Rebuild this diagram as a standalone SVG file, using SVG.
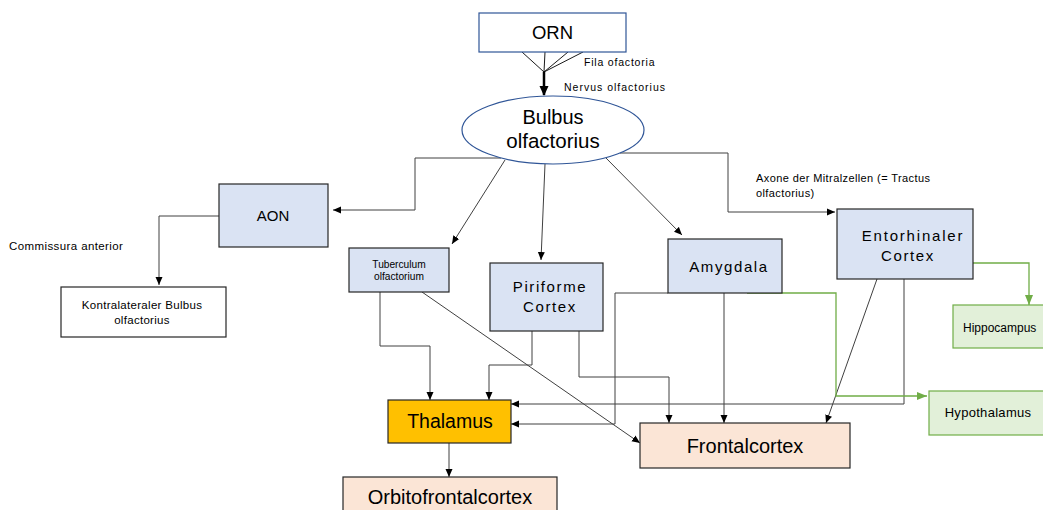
<svg xmlns="http://www.w3.org/2000/svg" width="1043" height="510" viewBox="0 0 1043 510">
<defs>
<marker id="ah" markerWidth="8" markerHeight="8" viewBox="0 0 8 8" refX="8" refY="4" orient="auto" markerUnits="userSpaceOnUse"><path d="M0,0.5 L8,4 L0,7.5 Z" fill="#000"/></marker>
<marker id="ahg" markerWidth="10" markerHeight="10" viewBox="0 0 10 10" refX="10" refY="5" orient="auto" markerUnits="userSpaceOnUse"><path d="M0,1 L10,5 L0,9 Z" fill="#70ad47"/></marker>
<marker id="ahb" markerWidth="10" markerHeight="10" viewBox="0 0 10 10" refX="9" refY="5" orient="auto" markerUnits="userSpaceOnUse"><path d="M0,0.5 L10,5 L0,9.5 Z" fill="#000"/></marker>
</defs>
<style>
text{font-family:"Liberation Sans",Arial,sans-serif;fill:#000}
.c{text-anchor:middle}
.blue{fill:#dae3f3;stroke:#262626;stroke-width:1.2}
.green{fill:#e2f0d9;stroke:#70ad47;stroke-width:1.2}
.peach{fill:#fbe5d6;stroke:#262626;stroke-width:1.2}
.ln{fill:none;stroke:#404040;stroke-width:1;marker-end:url(#ah)}
.gl{fill:none;stroke:#70ad47;stroke-width:1.3;marker-end:url(#ahg)}
.lbl{font-size:10.5px;letter-spacing:0.8px}
.sp{letter-spacing:1.6px;font-size:15px}
</style>
<rect width="1043" height="510" fill="#fff"/>

<g id="connectors">
<g fill="none" stroke="#000" stroke-width="0.9">
<path d="M522,52 L544,72 M545,52 L544,72 M568,52 L544,72 M583,52 L544,72"/>
</g>
<path d="M544,72 L544,95" stroke="#000" stroke-width="2.5" fill="none" marker-end="url(#ahb)"/>
<path class="ln" d="M501,158 H415 V210 H333"/>
<path class="ln" d="M620,153 H728 V212 H835"/>
<path class="ln" d="M505,160 L452,244"/>
<path class="ln" d="M545,164 L541,260"/>
<path class="ln" d="M606,158 L682,235"/>
<path class="ln" d="M219,216 H159 V285"/>
<path class="ln" d="M380,292 V346 H430 V400"/>
<path class="ln" d="M532,331 V365 H489 V400"/>
<path class="ln" d="M904,279 V404 H511"/>
<path class="ln" d="M668,293 H615 V424 H511"/>
<path class="ln" d="M422,292 L640,443"/>
<path class="ln" d="M579,331 V377 H669 V423"/>
<path class="ln" d="M724,293 V423"/>
<path class="ln" d="M877,279 L826,423"/>
<path class="ln" d="M449,443 V477"/>
<path class="gl" d="M973,263 H1029 V305"/>
<path class="gl" d="M747,293 H836 V396 H927"/>
</g>

<g id="orn"><rect x="479" y="13" width="147" height="39" fill="#fff" stroke="#2f5597" stroke-width="1.2"/><text class="c" x="552.5" y="39" font-size="18.5">ORN</text></g>
<g id="fila"><text class="lbl" x="584" y="66">Fila ofactoria</text></g>
<g id="nervus"><text class="lbl" x="564" y="91" style="letter-spacing:1px">Nervus olfactorius</text></g>
<g id="bulbus"><ellipse cx="553" cy="130" rx="91" ry="34" fill="#fff" stroke="#2f5597" stroke-width="1.2"/><text class="c" x="553" y="124" font-size="20">Bulbus</text><text class="c" x="553" y="148" font-size="20.5">olfactorius</text></g>
<g id="axone"><text x="756" y="182" font-size="11" style="letter-spacing:0.4px">Axone der  Mitralzellen  (= Tractus</text><text x="756" y="197" font-size="11" style="letter-spacing:0.4px">olfactorius)</text></g>
<g id="aon"><rect class="blue" x="219" y="184" width="109" height="63"/><text class="c" x="273" y="221" font-size="15">AON</text></g>
<g id="commissura"><text x="9" y="250" font-size="11.5" style="letter-spacing:0.4px">Commissura anterior</text></g>
<g id="kontra"><rect x="61" y="287" width="165" height="50" fill="#fff" stroke="#262626" stroke-width="1.2"/><text class="c" x="142" y="309" font-size="11.5" style="letter-spacing:0.3px">Kontralateraler Bulbus</text><text class="c" x="142" y="324" font-size="11.5" style="letter-spacing:0.3px">olfactorius</text></g>
<g id="tuberculum"><rect class="blue" x="349" y="248" width="100" height="44"/><text class="c" x="399" y="268" font-size="10.2">Tuberculum</text><text class="c" x="399" y="280" font-size="10.2">olfactorium</text></g>
<g id="piriforme"><rect class="blue" x="490" y="263" width="113" height="68"/><text class="c sp" x="550" y="292">Piriforme</text><text class="c sp" x="550" y="312">Cortex</text></g>
<g id="amygdala"><rect class="blue" x="668" y="239" width="114" height="54"/><text class="c sp" x="729" y="272">Amygdala</text></g>
<g id="entorhinaler"><rect class="blue" x="837" y="209" width="136" height="70"/><text class="c sp" x="913" y="241" style="letter-spacing:1.8px">Entorhinaler</text><text class="c sp" x="908" y="261">Cortex</text></g>
<g id="hippocampus"><rect class="green" x="953" y="305" width="100" height="43"/><text x="963" y="332" font-size="12">Hippocampus</text></g>
<g id="hypothalamus"><rect class="green" x="929" y="391" width="124" height="44"/><text class="c" x="988" y="417" font-size="13" style="letter-spacing:0.3px">Hypothalamus</text></g>
<g id="thalamus"><rect x="388" y="400" width="123" height="43" fill="#ffc000" stroke="#262626" stroke-width="1.2"/><text class="c" x="450" y="428" font-size="19.5">Thalamus</text></g>
<g id="frontalcortex"><rect class="peach" x="640" y="423" width="210" height="45"/><text class="c" x="745" y="453" font-size="20">Frontalcortex</text></g>
<g id="orbitofrontalcortex"><rect class="peach" x="343" y="477" width="214" height="40"/><text class="c" x="450" y="504" font-size="20">Orbitofrontalcortex</text></g>
</svg>
